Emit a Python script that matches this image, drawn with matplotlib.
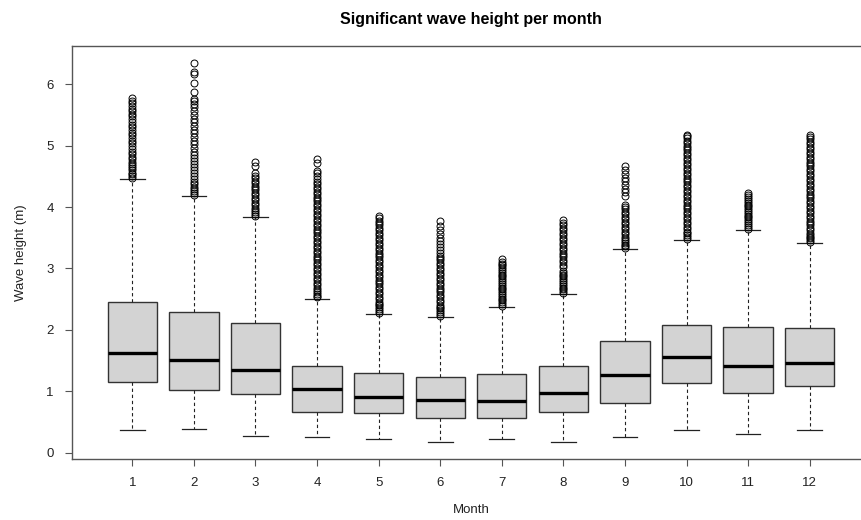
import matplotlib
matplotlib.use("Agg")
import matplotlib.pyplot as plt

plt.rcParams["font.family"] = ["Liberation Sans", "DejaVu Sans"]

# Boxplot summary per month
months = [1, 2, 3, 4, 5, 6, 7, 8, 9, 10, 11, 12]
whisk_lo = [0.38, 0.39, 0.27, 0.26, 0.23, 0.17, 0.23, 0.18, 0.25, 0.37, 0.31, 0.37]
q1 = [1.15, 1.03, 0.96, 0.67, 0.65, 0.57, 0.57, 0.66, 0.81, 1.14, 0.98, 1.09]
median = [1.63, 1.51, 1.35, 1.04, 0.91, 0.86, 0.84, 0.98, 1.26, 1.56, 1.42, 1.47]
q3 = [2.46, 2.29, 2.11, 1.41, 1.30, 1.23, 1.29, 1.42, 1.82, 2.08, 2.05, 2.03]
whisk_hi = [4.45, 4.18, 3.84, 2.51, 2.26, 2.21, 2.37, 2.58, 3.31, 3.46, 3.63, 3.41]

# Outliers per month
out_1 = [4.47, 4.50, 4.53, 4.56, 4.60, 4.63, 4.66, 4.70, 4.74, 4.78, 4.82, 4.86,
         4.90, 4.95, 5.00, 5.04, 5.08, 5.12, 5.17, 5.21, 5.26, 5.30, 5.34, 5.39,
         5.43, 5.48, 5.52, 5.56, 5.60, 5.64, 5.69, 5.73, 5.78]
out_2 = [4.20, 4.23, 4.26, 4.29, 4.33, 4.37, 4.41, 4.45, 4.50, 4.55, 4.60, 4.65,
         4.70, 4.75, 4.80, 4.85, 4.90, 4.96, 5.02, 5.08, 5.14, 5.20, 5.26, 5.32,
         5.38, 5.44, 5.50, 5.56, 5.62, 5.68, 5.72, 5.76, 5.87, 6.01, 6.16, 6.20, 6.35]
out_3 = [3.86, 3.89, 3.92, 3.95, 3.99, 4.03, 4.07, 4.11, 4.15, 4.19, 4.23, 4.27,
         4.31, 4.35, 4.39, 4.43, 4.47, 4.51, 4.55, 4.66, 4.74]
out_4 = [2.53, 2.56, 2.59, 2.62, 2.65, 2.69, 2.73, 2.77, 2.81, 2.85, 2.89, 2.93,
         2.97, 3.01, 3.05, 3.09, 3.13, 3.17, 3.21, 3.25, 3.29, 3.33, 3.37, 3.41,
         3.45, 3.49, 3.53, 3.57, 3.61, 3.65, 3.69, 3.73, 3.77, 3.81, 3.85, 3.89,
         3.93, 3.97, 4.01, 4.05, 4.09, 4.13, 4.17, 4.21, 4.25, 4.29, 4.33, 4.37,
         4.41, 4.45, 4.50, 4.55, 4.59, 4.72, 4.78]
out_5 = [2.28, 2.31, 2.34, 2.37, 2.40, 2.43, 2.46, 2.50, 2.54, 2.58, 2.62, 2.66,
         2.70, 2.74, 2.78, 2.82, 2.86, 2.90, 2.94, 2.98, 3.02, 3.06, 3.10, 3.14,
         3.18, 3.22, 3.26, 3.30, 3.34, 3.38, 3.42, 3.46, 3.50, 3.54, 3.58, 3.62,
         3.66, 3.70, 3.74, 3.78, 3.82, 3.86]
out_6 = [2.23, 2.26, 2.29, 2.32, 2.35, 2.38, 2.41, 2.45, 2.49, 2.53, 2.57, 2.61,
         2.65, 2.69, 2.73, 2.77, 2.81, 2.85, 2.89, 2.93, 2.97, 3.01, 3.05, 3.09,
         3.13, 3.17, 3.21, 3.25, 3.30, 3.35, 3.40, 3.45, 3.50, 3.56, 3.62, 3.69, 3.77]
out_7 = [2.39, 2.42, 2.45, 2.48, 2.51, 2.54, 2.57, 2.60, 2.63, 2.66, 2.69, 2.72,
         2.75, 2.78, 2.81, 2.84, 2.87, 2.90, 2.93, 2.96, 2.99, 3.02, 3.05, 3.08, 3.11, 3.15]
out_8 = [2.60, 2.63, 2.66, 2.69, 2.72, 2.75, 2.78, 2.81, 2.84, 2.87, 2.90, 2.93,
         2.96, 3.02, 3.06, 3.10, 3.14, 3.18, 3.22, 3.26, 3.30, 3.34, 3.38, 3.42,
         3.46, 3.50, 3.54, 3.58, 3.62, 3.66, 3.70, 3.74, 3.79]
out_9 = [3.33, 3.36, 3.39, 3.42, 3.45, 3.48, 3.52, 3.56, 3.60, 3.64, 3.68, 3.72,
         3.76, 3.80, 3.84, 3.88, 3.92, 3.96, 4.00, 4.04, 4.18, 4.24, 4.30, 4.36,
         4.42, 4.48, 4.54, 4.60, 4.67]
out_10 = [3.48, 3.51, 3.54, 3.57, 3.60, 3.64, 3.68, 3.72, 3.76, 3.80, 3.84, 3.88,
          3.92, 3.96, 4.00, 4.04, 4.08, 4.12, 4.16, 4.20, 4.24, 4.28, 4.32, 4.36,
          4.40, 4.44, 4.48, 4.52, 4.56, 4.60, 4.64, 4.68, 4.72, 4.76, 4.80, 4.84,
          4.88, 4.92, 4.96, 5.00, 5.04, 5.08, 5.12, 5.15, 5.17]
out_11 = [3.65, 3.68, 3.71, 3.74, 3.77, 3.80, 3.83, 3.86, 3.89, 3.92, 3.95, 3.98,
          4.01, 4.04, 4.07, 4.10, 4.13, 4.16, 4.19, 4.23]
out_12 = [3.43, 3.46, 3.49, 3.52, 3.55, 3.58, 3.62, 3.66, 3.70, 3.74, 3.78, 3.82,
          3.86, 3.90, 3.94, 3.98, 4.02, 4.06, 4.10, 4.14, 4.18, 4.22, 4.26, 4.30,
          4.34, 4.38, 4.42, 4.46, 4.50, 4.54, 4.58, 4.62, 4.66, 4.70, 4.74, 4.78,
          4.82, 4.86, 4.90, 4.94, 4.98, 5.02, 5.06, 5.10, 5.14, 5.18]
outliers = [out_1, out_2, out_3, out_4, out_5, out_6, out_7, out_8, out_9,
            out_10, out_11, out_12]

stats = []
for i in range(len(months)):
    stats.append({
        "label": str(months[i]),
        "whislo": whisk_lo[i],
        "q1": q1[i],
        "med": median[i],
        "q3": q3[i],
        "whishi": whisk_hi[i],
        "fliers": outliers[i],
    })

fig = plt.figure(figsize=(8.61, 5.2), dpi=100)
# plot area runs off the right edge, like the cropped reference
ax = fig.add_axes([72 / 861, 61 / 520, 798 / 861, 413 / 520])

ax.bxp(stats, positions=months, widths=0.8, patch_artist=True,
       boxprops=dict(facecolor="#d3d3d3", edgecolor="#333333", linewidth=1.0),
       medianprops=dict(color="black", linewidth=2.4),
       whiskerprops=dict(color="#222222", linewidth=0.8, linestyle=(0, (3, 2.5))),
       capprops=dict(color="#222222", linewidth=0.9),
       flierprops=dict(marker="o", markersize=5, markerfacecolor="none",
                       markeredgecolor="black", markeredgewidth=0.7),
       capwidths=0.4)

ax.set_xlim(0.02, 12.98)
ax.set_ylim(-0.10, 6.62)
ax.set_yticks([0, 1, 2, 3, 4, 5, 6])
ax.set_xticks(months)
ax.set_xticklabels([str(m) for m in months])

for s in ["top", "right", "left", "bottom"]:
    ax.spines[s].set_color("#555555")
    ax.spines[s].set_linewidth(1.0)

ax.tick_params(axis="both", direction="out", length=5, width=0.8,
               color="#555555", labelsize=9.5, labelcolor="#222222", pad=8)

ax.set_xlabel("Month", fontsize=9.5, color="#222222", labelpad=11)
ax.set_ylabel("Wave height (m)", fontsize=9.5, color="#222222", labelpad=14)
fig.suptitle("Significant wave height per month", x=471 / 861, y=0.977,
             fontsize=11.5, fontweight="bold", color="black")

fig.savefig("out.png", dpi=100)
